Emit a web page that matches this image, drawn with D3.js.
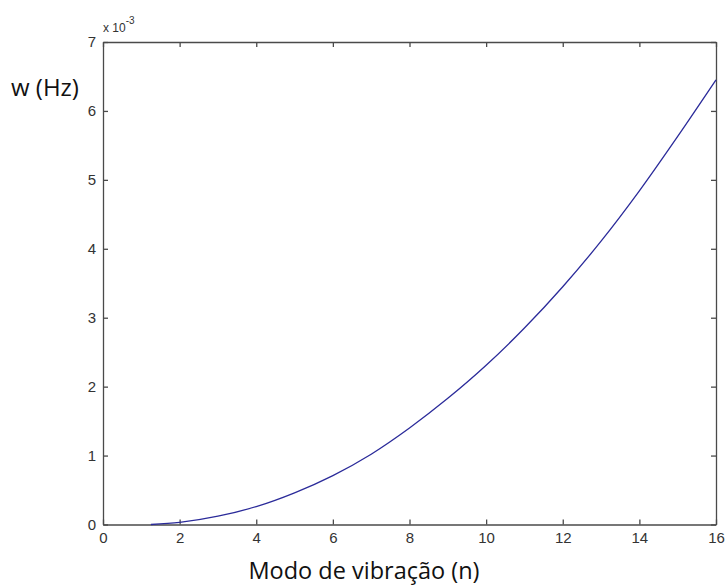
<!DOCTYPE html>
<html>
<head>
<meta charset="utf-8">
<script src="https://cdn.jsdelivr.net/npm/d3@7"></script>
<style>
  html, body { margin: 0; padding: 0; background: #fff; }
  svg { display: block; }
</style>
</head>
<body>
<svg id="chart" width="728" height="585"></svg>
<script>
// Vibration mode number n and natural frequency w (units of 1e-3 Hz)
const modes = [1.25, 2, 3, 4, 5, 6, 7, 8, 9, 10, 11, 12, 13, 14, 15, 16];
const freq  = [0.00, 0.03, 0.12, 0.26, 0.46, 0.71, 1.02, 1.40, 1.83, 2.31, 2.85, 3.45, 4.11, 4.84, 5.63, 6.45];
const xTicks = [0, 2, 4, 6, 8, 10, 12, 14, 16];
const yTicks = [0, 1, 2, 3, 4, 5, 6, 7];

const svg = d3.select("#chart");
const m = { left: 103, right: 716, top: 42, bottom: 524.5 };

const x = d3.scaleLinear().domain([0, 16]).range([m.left, m.right]);
const y = d3.scaleLinear().domain([0, 7]).range([m.bottom, m.top]);

const axisColor = "#4a4a4a";
const tickFont = "Liberation Sans, Arial, sans-serif";

// bottom axis, ticks inward
const gx = svg.append("g").attr("transform", `translate(0,${m.bottom})`)
  .call(d3.axisBottom(x).tickValues(xTicks).tickFormat(d3.format("d"))
    .tickSize(-5).tickPadding(8).tickSizeOuter(0));
// left axis
const gy = svg.append("g").attr("transform", `translate(${m.left},0)`)
  .call(d3.axisLeft(y).tickValues(yTicks).tickFormat(d3.format("d"))
    .tickSize(-5).tickPadding(7).tickSizeOuter(0));
// top and right box edges with mirrored ticks
const gt = svg.append("g").attr("transform", `translate(0,${m.top})`)
  .call(d3.axisTop(x).tickValues(xTicks).tickSize(-5).tickFormat("").tickSizeOuter(0));
const gr = svg.append("g").attr("transform", `translate(${m.right},0)`)
  .call(d3.axisRight(y).tickValues(yTicks).tickSize(-5).tickFormat("").tickSizeOuter(0));

[gx, gy, gt, gr].forEach(g => {
  g.select(".domain").attr("stroke", axisColor).attr("stroke-width", 1.3);
  g.selectAll(".tick line").attr("stroke", axisColor).attr("stroke-width", 1.3);
  g.selectAll(".tick text").attr("fill", "#333").style("font-family", tickFont).style("font-size", "15px");
});

// exponent label
const ex = svg.append("text").attr("x", m.left).attr("y", 32)
  .attr("fill", "#333").style("font-family", tickFont).style("font-size", "12px");
ex.append("tspan").text("x 10");
ex.append("tspan").attr("dy", -8).style("font-size", "10px").text("-3");

// frequency curve
const line = d3.line().x((d, i) => x(modes[i])).y(d => y(d)).curve(d3.curveMonotoneX);
svg.append("path").datum(freq).attr("d", line)
  .attr("fill", "none").attr("stroke", "#2b2b9a").attr("stroke-width", 1.3);

// axis titles
svg.append("text").attr("x", 11).attr("y", 96)
  .attr("fill", "#111").style("font-family", "Open Sans, sans-serif").style("font-size", "24px")
  .text("w (Hz)");
svg.append("text").attr("x", 364).attr("y", 579).attr("text-anchor", "middle")
  .attr("fill", "#111").style("font-family", "Open Sans, sans-serif").style("font-size", "23.5px")
  .text("Modo de vibração (n)");
</script>
</body>
</html>
